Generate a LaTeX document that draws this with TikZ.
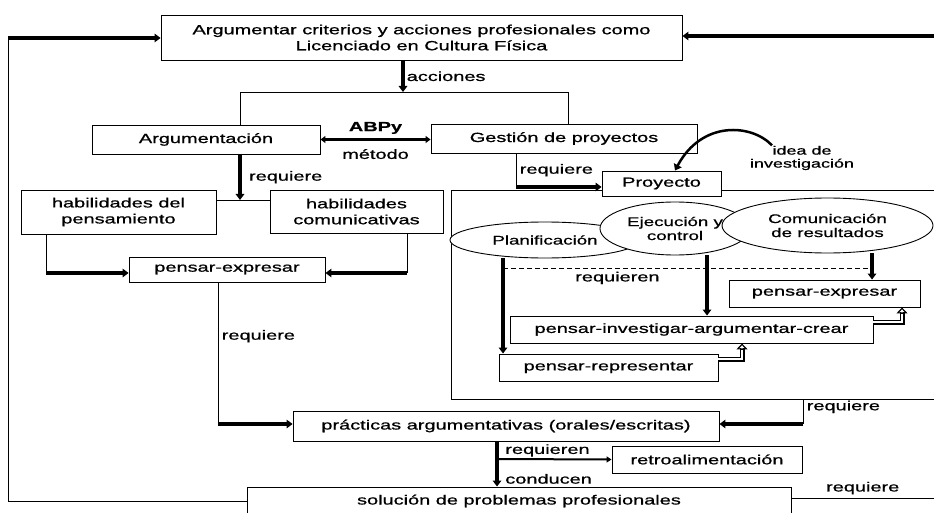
\documentclass[tikz,border=0pt]{standalone}
\usepackage{fontspec}
\setmainfont{Liberation Sans}[FakeStretch=1.5,FakeBold=0.8]
\usetikzlibrary{shapes,arrows.meta,positioning}

\begin{document}
\begin{tikzpicture}[x=1pt,y=-1pt,font=\fontsize{13.3}{16}\selectfont,
    thin line/.style={line width=0.9pt},
    fat/.style={line width=3.5pt,-{Triangle[length=6pt,width=8.5pt]}},
    hollow/.style={double,double distance=2.6pt,line width=1.2pt,shorten >=5pt},
    hollow tip/.style={line width=1.2pt,-{Triangle[open,length=6pt,width=11pt]}}]
  \useasboundingbox (0,0) rectangle (934,513);
  \begin{scope}[every node/.style={draw,line width=0.9pt,fill=white,align=center,inner sep=0pt}]
    \node[minimum width=485pt,minimum height=209pt] (frame) at (693.5,294.5) {};
    \node[minimum width=521pt,minimum height=45pt] (top) at (421.5,37.5) {Argumentar criterios y acciones profesionales como\\Licenciado en Cultura Física};
    \node[minimum width=228pt,minimum height=29pt] (arg) at (206,139.5) {Argumentación};
    \node[minimum width=266pt,minimum height=29pt] (gest) at (564,138.5) {Gestión de proyectos};
    \node[minimum width=195pt,minimum height=44pt] (habp) at (118.5,212) {habilidades del\\pensamiento};
    \node[minimum width=173pt,minimum height=43pt] (habc) at (356.5,211.5) {habilidades\\comunicativas};
    \node[minimum width=196pt,minimum height=25pt] (pe1) at (227,269.5) {pensar-expresar};
    \node[minimum width=119pt,minimum height=25pt] (proy) at (661.5,183.5) {Proyecto};
    \node[minimum width=191pt,minimum height=27pt] (pe2) at (824.5,293.5) {pensar-expresar};
    \node[minimum width=363pt,minimum height=27pt] (piac) at (691.5,329.5) {pensar-investigar-argumentar-crear};
    \node[minimum width=219pt,minimum height=27pt] (prep) at (608.5,367.5) {pensar-representar};
    \node[minimum width=426pt,minimum height=30pt] (prac) at (506,426) {prácticas argumentativas (orales/escritas)};
    \node[minimum width=190pt,minimum height=27pt] (retro) at (707,459.5) {retroalimentación};
    \node[minimum width=544pt,minimum height=28pt] (sol) at (519,501) {solución de problemas profesionales};
  \end{scope}
  \begin{scope}[every node/.style={draw,ellipse,line width=0.9pt,fill=white,align=center,inner sep=0pt,font=\fontsize{12.5}{14}\selectfont}]
    \node[minimum width=190pt,minimum height=36pt] (plan) at (545,240) {Planificación};
    \node[minimum width=150pt,minimum height=53pt] (ejec) at (675,228.5) {Ejecución y\\control};
    \node[minimum width=211pt,minimum height=55pt] (com) at (827.5,225.5) {Comunicación\\de resultados};
  \end{scope}
  \node[align=center,font=\fontsize{12}{13}\selectfont] (idea) at (802,158) {idea de\\investigación};

  \coordinate (lc) at (8,38);
  \coordinate (rt) at (934,36);
  \coordinate (ac) at (403,92);
  \coordinate (sL) at (240,92);
  \coordinate (sR) at (568,92);
  \coordinate (jn) at (240,200);
  \coordinate (pl) at (46,273);
  \coordinate (pr) at (407,273);
  \coordinate (pq) at (218,424);
  \coordinate (gq) at (516,187);
  \coordinate (ip) at (675,171);
  \coordinate (dA) at (503,268);
  \coordinate (dB) at (707,268);
  \coordinate (dC) at (872,268);
  \coordinate (hA) at (742,359);
  \coordinate (hB) at (902,322);
  \coordinate (fq) at (803,424);
  \coordinate (pv) at (497,459);
  \coordinate (rb) at (934,498);

  % outer loop back to the top
  \draw[thin line] (sol.west) -| (lc);
  \draw[fat] (lc) -- (lc -| top.west);
  \draw[fat] (rt) -- (rt -| top.east);
  \draw[fat] (top.south -| ac) -- node[right,inner sep=2pt]{acciones} (ac);
  \draw[thin line] (arg.north -| sL) -- (sL) -- (sR) -- (gest.north -| sR);
  \draw[line width=2.5pt,{Triangle[length=5pt,width=7pt]}-{Triangle[length=5pt,width=7pt]}] (arg.east) -- (arg.east -| gest.west)
    node[midway,above=1pt,font=\fontsize{13.3}{16}\selectfont\bfseries]{ABPy} node[midway,below=5pt]{método};
  \draw[fat] (arg.south -| jn) -- node[right=4pt]{requiere} (jn);
  \draw[thin line] (habp.east |- jn) -- (habc.west |- jn);
  \draw[thin line] (habp.south -| pl) -- (pl);
  \draw[fat] (pl) -- (pl -| pe1.west);
  \draw[thin line] (habc.south -| pr) -- (pr);
  \draw[fat] (pr) -- (pr -| pe1.east);
  \draw[thin line] (pe1.south -| pq) -- node[right,pos=0.38]{requiere} (pq);
  \draw[fat] (pq) -- (pq -| prac.west);
  \draw[thin line] (gest.south -| gq) -- node[right]{requiere} (gq);
  \draw[fat] (gq) -- (gq -| proy.west);
  \draw[fat,line width=2.5pt] ([xshift=-30pt,yshift=-3pt]idea.north) .. controls (752,124) and (702,120) .. (proy.north -| ip);
  \draw[thin line,dash pattern=on 5pt off 3pt] (dA) -- node[below,pos=0.31]{requieren} (dC);
  \draw[fat] (plan.south -| dA) -- (prep.north -| dA);
  \draw[fat] (ejec.south -| dB) -- (piac.north -| dB);
  \draw[fat] (com.south -| dC) -- (pe2.north -| dC);
  \draw[hollow] (hA -| prep.east) -| (piac.south -| hA);
  \draw[hollow tip] ([yshift=-6pt]piac.south -| hA) -- (piac.south -| hA);
  \draw[hollow] (hB -| piac.east) -| (pe2.south -| hB);
  \draw[hollow tip] ([yshift=-6pt]pe2.south -| hB) -- (pe2.south -| hB);
  \draw[thin line] (frame.south -| fq) -- node[right,pos=0.3]{requiere} (fq);
  \draw[fat] (fq) -- (fq -| prac.east);
  \draw[fat,line width=4pt] (prac.south -| pv) -- node[pos=0.2,right=3pt]{requieren} node[pos=0.83,right=3pt]{conducen} (sol.north -| pv);
  \draw[line width=2pt,-{Triangle[length=5pt,width=6pt]}] (pv) -- (retro.west);
  \draw[thin line] (rb -| sol.east) -- node[above]{requiere} (rb);
\end{tikzpicture}
\end{document}
